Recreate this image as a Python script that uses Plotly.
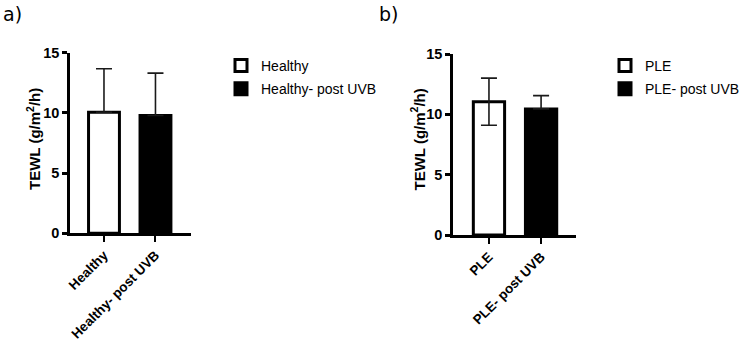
import plotly.graph_objects as go

# ---- data ----
cats_a = ["Healthy", "Healthy- post UVB"]
mean_a = [10.05, 9.78]
err_a = [3.62, 3.52]

cats_b = ["PLE", "PLE- post UVB"]
mean_b = [11.05, 10.45]
err_b = [1.95, 1.1]

fills = ["white", "black"]
y_ticks = [0, 5, 10, 15]
y_title = "<b>TEWL (g/m<sup>2</sup>/h)</b>"

W, H = 750, 340
FONT = "Liberation Sans, Arial, sans-serif"

fig = go.Figure()

for i in range(2):
    fig.add_trace(go.Bar(
        x=[cats_a[i]], y=[mean_a[i]], name=cats_a[i],
        marker=dict(color=fills[i], line=dict(color="black", width=3)),
        width=0.6,
        error_y=dict(type="data", symmetric=False, array=[err_a[i]], arrayminus=[0],
                     color="#1a1a1a", thickness=1.6, width=8),
        xaxis="x", yaxis="y", legend="legend", legendgroup="a%d" % i,
    ))
for i in range(2):
    # the lower whisker is hidden by the black fill in the reference
    minus = err_b[i] if fills[i] == "white" else 0
    fig.add_trace(go.Bar(
        x=[cats_b[i]], y=[mean_b[i]], name=cats_b[i],
        marker=dict(color=fills[i], line=dict(color="black", width=3)),
        width=0.6,
        error_y=dict(type="data", symmetric=False, array=[err_b[i]], arrayminus=[minus],
                     color="#1a1a1a", thickness=1.6, width=8),
        xaxis="x2", yaxis="y2", legend="legend2", legendgroup="b%d" % i,
    ))

def px_x(p):
    return p / W

def px_y(p):
    return 1 - p / H

xcommon = dict(showline=True, linewidth=2.5, linecolor="black", ticks="outside",
               ticklen=6, tickwidth=2, tickcolor="black", tickangle=-45,
               tickfont=dict(family=FONT, size=13.5, color="black", weight="bold"),
               showgrid=False, zeroline=False, type="category", automargin=False,
               ticklabeloverflow="allow")
ycommon = dict(showline=True, linewidth=2.5, linecolor="black", ticks="outside",
               ticklen=5, tickwidth=2.5, tickcolor="black", tickvals=y_ticks,
               tickfont=dict(family=FONT, size=14.5, color="black", weight="bold"),
               range=[0, 15], showgrid=False, zeroline=False, automargin=False,
               ticklabeloverflow="allow")

fig.update_layout(
    width=W, height=H, margin=dict(l=0, r=0, t=0, b=0),
    paper_bgcolor="white", plot_bgcolor="white",
    barmode="overlay",
    xaxis=dict(domain=[px_x(70), px_x(191)], range=[-0.66, 1.69], anchor="y", **xcommon),
    yaxis=dict(domain=[px_y(233.3), px_y(52.7)], anchor="x", **ycommon),
    xaxis2=dict(domain=[px_x(453), px_x(576)], range=[-0.69, 1.67], anchor="y2", **xcommon),
    yaxis2=dict(domain=[px_y(235), px_y(54)], anchor="x2", **ycommon),
    legend=dict(x=px_x(221), y=px_y(50), xanchor="left", yanchor="top",
                font=dict(family=FONT, size=14, color="black"),
                bgcolor="rgba(0,0,0,0)", tracegroupgap=2, traceorder="grouped"),
    legend2=dict(x=px_x(605), y=px_y(50), xanchor="left", yanchor="top",
                 font=dict(family=FONT, size=14, color="black"),
                 bgcolor="rgba(0,0,0,0)", tracegroupgap=2, traceorder="grouped"),
    annotations=[
        dict(text=y_title, x=px_x(33), y=px_y(139), xref="paper", yref="paper",
             textangle=-90, showarrow=False, xanchor="center", yanchor="middle",
             font=dict(family=FONT, size=15, color="black")),
        dict(text=y_title, x=px_x(417.5), y=px_y(140), xref="paper", yref="paper",
             textangle=-90, showarrow=False, xanchor="center", yanchor="middle",
             font=dict(family=FONT, size=15, color="black")),
        dict(text="a)", x=px_x(1), y=px_y(14), xref="paper", yref="paper",
             showarrow=False, xanchor="left", yanchor="middle",
             font=dict(family="DejaVu Sans, sans-serif", size=19, color="black")),
        dict(text="b)", x=px_x(377), y=px_y(14), xref="paper", yref="paper",
             showarrow=False, xanchor="left", yanchor="middle",
             font=dict(family="DejaVu Sans, sans-serif", size=19, color="black")),
    ],
    showlegend=True,
)

fig.write_html("out.html")
